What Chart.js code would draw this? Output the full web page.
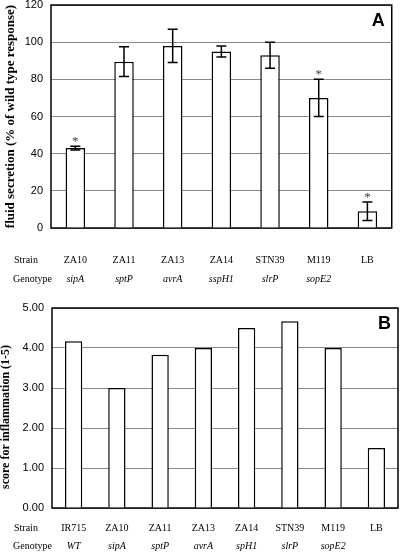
<!DOCTYPE html>
<html>
<head>
<meta charset="utf-8">
<script src="https://cdn.jsdelivr.net/npm/chart.js@4.4.0/dist/chart.umd.min.js"></script>
<style>
  html, body { margin: 0; padding: 0; background: #fff; }
  #wrap { position: relative; width: 400px; height: 552px; overflow: hidden; }
  canvas { position: absolute; left: 0; }
  #chartA { top: 0; }
  #chartB { top: 290px; }
</style>
</head>
<body>
<div id="wrap">
  <canvas id="chartA" width="400" height="290"></canvas>
  <canvas id="chartB" width="400" height="262"></canvas>
</div>
<script>
// ===========================
// DATA - PANEL A (fluid secretion)
// ===========================
const strainsA = ['ZA10', 'ZA11', 'ZA13', 'ZA14', 'STN39', 'M119', 'LB'];
const genotypesA = ['sipA', 'sptP', 'avrA', 'sspH1', 'slrP', 'sopE2', ''];
const fluidSecretion = [43, 89.5, 98, 95, 93, 70, 9];
const fluidError = [1, 8, 9, 3, 7, 10, 5];
const significantA = [true, false, false, false, false, true, true];
const ticksA = [0, 20, 40, 60, 80, 100, 120];

// ===========================
// DATA - PANEL B (inflammation score)
// ===========================
const strainsB = ['IR715', 'ZA10', 'ZA11', 'ZA13', 'ZA14', 'STN39', 'M119', 'LB'];
const genotypesB = ['WT', 'sipA', 'sptP', 'avrA', 'spH1', 'slrP', 'sopE2', ''];
const inflammationScore = [4.17, 3.0, 3.83, 4.0, 4.5, 4.67, 4.0, 1.5];
const ticksB = [0, 1, 2, 3, 4, 5];

const SERIF = '"Liberation Serif", "Times New Roman", serif';
const SANS = '"Liberation Sans", Arial, sans-serif';

// frame, error bars, asterisks, row headers, panel letter
const panelDecor = {
  id: 'panelDecor',
  beforeDatasetsDraw(chart) {
    const { ctx, chartArea: a } = chart;
    ctx.save();
    ctx.strokeStyle = '#000';
    ctx.lineWidth = 1.5;
    ctx.strokeRect(a.left, a.top, a.right - a.left, a.bottom - a.top);
    ctx.restore();
  },
  afterDatasetsDraw(chart, args, opts) {
    const { ctx, chartArea: a, scales } = chart;
    const bars = chart.getDatasetMeta(0).data;
    const vals = chart.data.datasets[0].data;
    ctx.save();

    if (opts.errors) {
      ctx.strokeStyle = '#000';
      ctx.lineWidth = 1.5;
      opts.errors.forEach((e, i) => {
        const x = bars[i].x;
        const yHi = scales.y.getPixelForValue(vals[i] + e);
        const yLo = scales.y.getPixelForValue(vals[i] - e);
        ctx.beginPath();
        ctx.moveTo(x, yHi); ctx.lineTo(x, yLo);
        ctx.moveTo(x - 5, yHi); ctx.lineTo(x + 5, yHi);
        ctx.moveTo(x - 5, yLo); ctx.lineTo(x + 5, yLo);
        ctx.stroke();
        if (opts.stars && opts.stars[i]) {
          ctx.fillStyle = '#444';
          ctx.font = '13px ' + SERIF;
          ctx.textAlign = 'center';
          ctx.textBaseline = 'alphabetic';
          ctx.fillText('*', x, yHi - 1);
        }
      });
    }

    // row headers
    ctx.fillStyle = '#000';
    ctx.textAlign = 'left';
    ctx.textBaseline = 'middle';
    ctx.font = '10px ' + SERIF;
    const sx = scales.x, gx = scales.geno;
    ctx.fillText('Strain', 14, sx.top + sx.options.ticks.padding + 6);
    ctx.fillText('Genotype', 13, gx.top + gx.options.ticks.padding + 6);

    // panel letter
    ctx.font = 'bold 18px ' + SANS;
    ctx.textAlign = 'right';
    ctx.textBaseline = 'alphabetic';
    ctx.fillText(opts.letter, a.right - 7, a.top + 21);
    ctx.restore();
  }
};

function makePanel(canvasId, cfg) {
  return new Chart(document.getElementById(canvasId), {
    type: 'bar',
    data: {
      labels: cfg.strains,
      datasets: [{
        data: cfg.values,
        backgroundColor: '#fff',
        borderColor: '#000',
        borderWidth: 1.5,
        categoryPercentage: 0.8,
        barPercentage: 0.5
      }]
    },
    options: {
      responsive: false,
      animation: false,
      layout: { padding: cfg.padding },
      plugins: {
        legend: { display: false },
        tooltip: { enabled: false },
        panelDecor: { letter: cfg.letter, errors: cfg.errors, stars: cfg.stars }
      },
      scales: {
        x: {
          position: 'bottom',
          weight: 0,
          grid: { display: false, drawTicks: false },
          border: { display: false },
          ticks: { color: '#000', font: { family: SERIF, size: 10 }, padding: cfg.strainPad, maxRotation: 0, autoSkip: false },
          afterFit: s => { s.height = cfg.strainH; }
        },
        geno: {
          type: 'category',
          labels: cfg.genotypes,
          position: 'bottom',
          offset: true,
          weight: 1,
          grid: { display: false, drawTicks: false },
          border: { display: false },
          ticks: { color: '#000', font: { family: SERIF, size: 10, style: 'italic' }, padding: cfg.genoPad, maxRotation: 0, autoSkip: false },
          afterFit: s => { s.height = cfg.genoH; }
        },
        y: {
          min: cfg.ticks[0],
          max: cfg.ticks[cfg.ticks.length - 1],
          afterBuildTicks: s => { s.ticks = cfg.ticks.map(v => ({ value: v })); },
          grid: { color: '#8a8a8a', lineWidth: 1, drawTicks: false },
          border: { display: false },
          ticks: { color: '#000', font: { family: SANS, size: 11 }, padding: 8, callback: cfg.fmt },
          title: {
            display: true,
            text: cfg.title,
            color: '#000',
            font: { family: SERIF, size: cfg.titleSize, weight: 'bold' },
            padding: { top: cfg.titlePad, bottom: 0 }
          },
          afterFit: s => {
            s.width = cfg.yWidth;
            s.paddingTop = 0;
            s.paddingBottom = 0;
          }
        }
      }
    },
    plugins: [panelDecor]
  });
}

makePanel('chartA', {
  strains: strainsA,
  genotypes: genotypesA,
  values: fluidSecretion,
  errors: fluidError,
  stars: significantA,
  ticks: ticksA,
  fmt: v => String(v),
  letter: 'A',
  title: 'fluid secretion (% of wild type response)',
  titleSize: 13,
  titlePad: 3,
  yWidth: 51,
  padding: { top: 5, right: 3, left: 0, bottom: 0 },
  strainPad: 26, strainH: 41,
  genoPad: 4, genoH: 21
});

makePanel('chartB', {
  strains: strainsB,
  genotypes: genotypesB,
  values: inflammationScore,
  ticks: ticksB,
  fmt: v => Number(v).toFixed(2),
  letter: 'B',
  // trailing spaces nudge the rotated title a little lower, as in the original
  title: 'score for inflammation (1-5)      ',
  titleSize: 12,
  titlePad: -1,
  yWidth: 52,
  padding: { top: 18, right: 2, left: 0, bottom: 0 },
  strainPad: 14, strainH: 28,
  genoPad: 4, genoH: 16
});
</script>
</body>
</html>
